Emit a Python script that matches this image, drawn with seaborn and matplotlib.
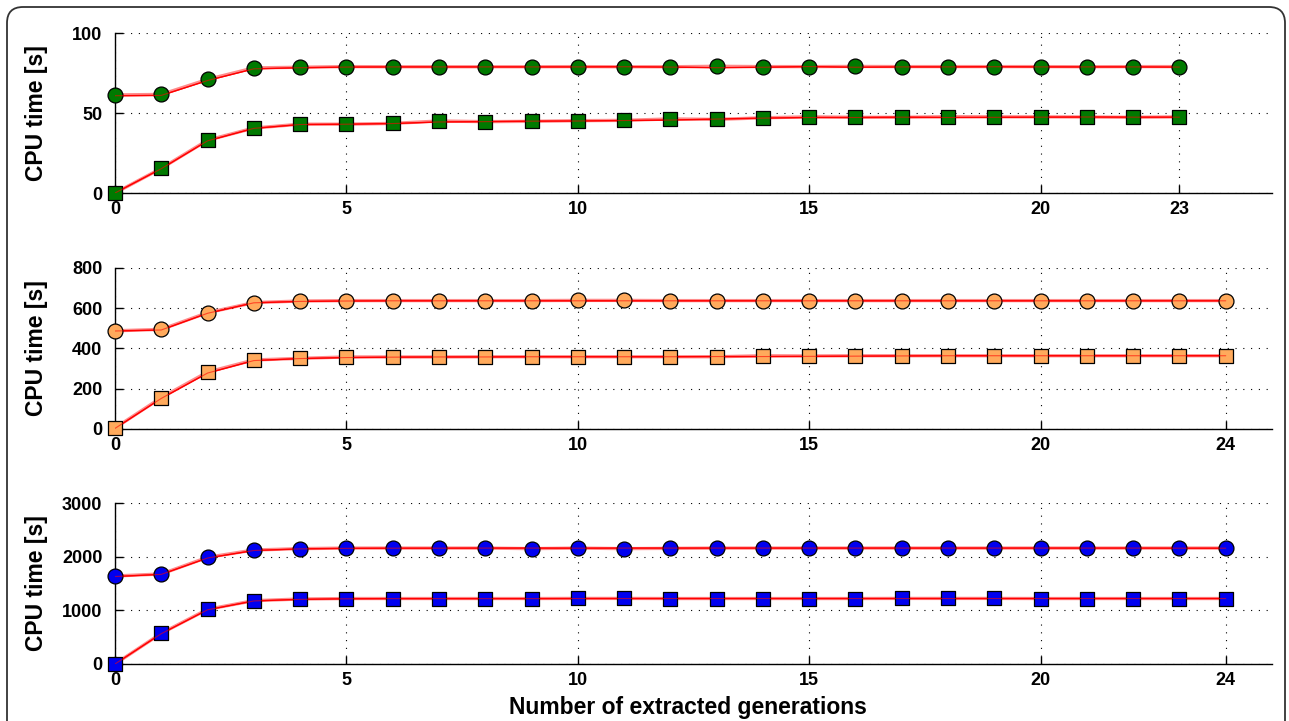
import numpy as np
import matplotlib
matplotlib.use("Agg")
from matplotlib import pyplot as plt
from matplotlib.patches import FancyBboxPatch
from matplotlib.transforms import IdentityTransform
import seaborn as sns

# values
gen_top = list(range(24))
gen_rest = list(range(25))

green_circ_a = [61.3, 61.6, 71.0, 78.2, 78.6, 79.0, 78.9, 78.9, 78.9, 78.9, 79.0, 78.9,
                78.9, 79.2, 79.0, 79.0, 79.1, 79.0, 79.0, 79.0, 79.0, 78.9, 79.0, 79.0]
green_circ_b = [60.8, 61.0, 70.3, 77.6, 78.3, 78.7, 78.8, 78.8, 78.8, 78.8, 78.8, 78.9,
                78.7, 78.3, 78.6, 79.0, 78.6, 78.8, 78.8, 78.9, 78.8, 78.8, 78.8, 78.7]
green_sq_a = [0.0, 15.4, 33.0, 40.6, 43.0, 43.0, 43.5, 45.0, 44.6, 44.8, 45.2, 45.4,
              46.3, 46.0, 47.0, 47.6, 47.3, 47.3, 47.7, 47.6, 47.6, 47.5, 47.3, 47.6]
green_sq_b = [0.0, 15.2, 32.6, 40.4, 42.8, 43.0, 43.4, 44.4, 44.6, 44.9, 45.0, 45.3,
              45.6, 46.2, 46.8, 47.2, 47.2, 47.4, 47.2, 47.3, 47.4, 47.5, 47.4, 47.4]

orange_circ_a = [488, 495, 578, 628, 636, 638, 638, 638, 638, 638, 639, 639, 638,
                 638, 638, 638, 638, 638, 638, 638, 638, 638, 638, 638, 638]
orange_circ_b = [487, 492, 575, 627, 634, 636, 637, 637, 637, 637, 637, 637, 637,
                 637, 637, 637, 637, 637, 637, 637, 637, 637, 637, 637, 637]
orange_sq_a = [5, 156, 283, 343, 351, 358, 358, 358, 359, 359, 359, 359, 359,
               359, 364, 363, 364, 364, 364, 364, 364, 364, 364, 364, 364]
orange_sq_b = [3, 152, 278, 340, 350, 355, 357, 358, 358, 359, 359, 359, 359,
               360, 360, 361, 362, 363, 364, 364, 364, 364, 364, 364, 364]

blue_circ_a = [1640, 1677, 1988, 2124, 2150, 2160, 2160, 2160, 2160, 2150, 2160, 2150, 2155,
               2160, 2160, 2160, 2160, 2160, 2160, 2160, 2160, 2160, 2160, 2160, 2160]
blue_circ_b = [1630, 1670, 1975, 2115, 2145, 2155, 2158, 2158, 2160, 2160, 2158, 2160, 2160,
               2160, 2160, 2160, 2160, 2160, 2160, 2160, 2160, 2160, 2160, 2158, 2158]
blue_sq_a = [0, 572, 1019, 1180, 1211, 1220, 1220, 1220, 1220, 1220, 1222, 1222, 1220,
             1220, 1220, 1220, 1220, 1222, 1222, 1222, 1220, 1220, 1220, 1220, 1220]
blue_sq_b = [0, 565, 1010, 1175, 1205, 1215, 1218, 1218, 1218, 1218, 1220, 1220, 1220,
             1220, 1220, 1220, 1220, 1220, 1220, 1220, 1220, 1220, 1220, 1220, 1220]

panels = [
    dict(x=gen_top, circ=(green_circ_a, green_circ_b), sq=(green_sq_a, green_sq_b),
         color="#007A00", ylim=100, yticks=[0, 50, 100], xticks=[0, 5, 10, 15, 20, 23]),
    dict(x=gen_rest, circ=(orange_circ_a, orange_circ_b), sq=(orange_sq_a, orange_sq_b),
         color="#FFAA5C", ylim=800, yticks=[0, 200, 400, 600, 800], xticks=[0, 5, 10, 15, 20, 24]),
    dict(x=gen_rest, circ=(blue_circ_a, blue_circ_b), sq=(blue_sq_a, blue_sq_b),
         color="#0000F0", ylim=3000, yticks=[0, 1000, 2000, 3000], xticks=[0, 5, 10, 15, 20, 24]),
]

sns.set_theme(style="ticks")
plt.rcParams["font.family"] = ["Liberation Sans", "DejaVu Sans"]
plt.rcParams["font.weight"] = "bold"

fig = plt.figure(figsize=(12.89, 7.21), dpi=100)

# axes boxes in pixels: left, top, right, bottom
W, H = 1289, 721
boxes = [(115, 33, 1272, 193), (115, 268, 1272, 429), (115, 503, 1272, 664)]

for p, (l, t, r, b) in zip(panels, boxes):
    ax = fig.add_axes([l / W, 1 - b / H, (r - l) / W, (b - t) / H])
    for pair, mk, size in [(p["circ"], "o", 115), (p["sq"], "s", 90)]:
        run_a, run_b = pair
        sns.lineplot(x=p["x"], y=run_a, ax=ax, color="red", lw=2.4, alpha=0.45, zorder=2)
        sns.lineplot(x=p["x"], y=run_b, ax=ax, color="red", lw=1.0, zorder=3)
        sns.scatterplot(x=p["x"], y=run_a, ax=ax, marker=mk, s=size, color=p["color"],
                        edgecolor="black", linewidth=0.9, zorder=4, clip_on=False)
        # red line drawn again over the markers, as in the original
        sns.lineplot(x=p["x"], y=run_b, ax=ax, color="red", lw=0.8, alpha=0.6, zorder=5)

    ax.set_xlim(0, 25)
    ax.set_ylim(0, p["ylim"])
    ax.set_xticks(p["xticks"])
    ax.set_yticks(p["yticks"])
    ax.grid(True, color="black", linestyle=(0, (1, 6)), linewidth=0.8)
    ax.set_axisbelow(True)
    sns.despine(ax=ax)
    for side in ["left", "bottom"]:
        ax.spines[side].set_color("black")
        ax.spines[side].set_linewidth(1.0)
    ax.tick_params(direction="in", length=6, width=1, colors="black", labelsize=13)
    ax.tick_params(axis="y", pad=9)
    ax.tick_params(axis="x", pad=6)
    for lab in ax.get_xticklabels() + ax.get_yticklabels():
        lab.set_fontweight("bold")
    ax.set_ylabel("CPU time [s]", fontsize=16.5, fontweight="bold", color="black")
    ax.yaxis.set_label_coords(-0.058, 0.5)
    ax.set_xlabel("")

ax.set_xlabel("Number of extracted generations", fontsize=16.5, fontweight="bold",
              color="black", labelpad=7)
ax.xaxis.set_label_coords(0.495, -0.2)

# rounded card border around the figure, open at the bottom
frame = FancyBboxPatch((7, -30), 1278, 744, boxstyle="round,pad=0,rounding_size=16",
                       transform=IdentityTransform(), facecolor="none",
                       edgecolor="#333333", linewidth=1.3)
fig.add_artist(frame)

plt.savefig("out.png", dpi=100)
